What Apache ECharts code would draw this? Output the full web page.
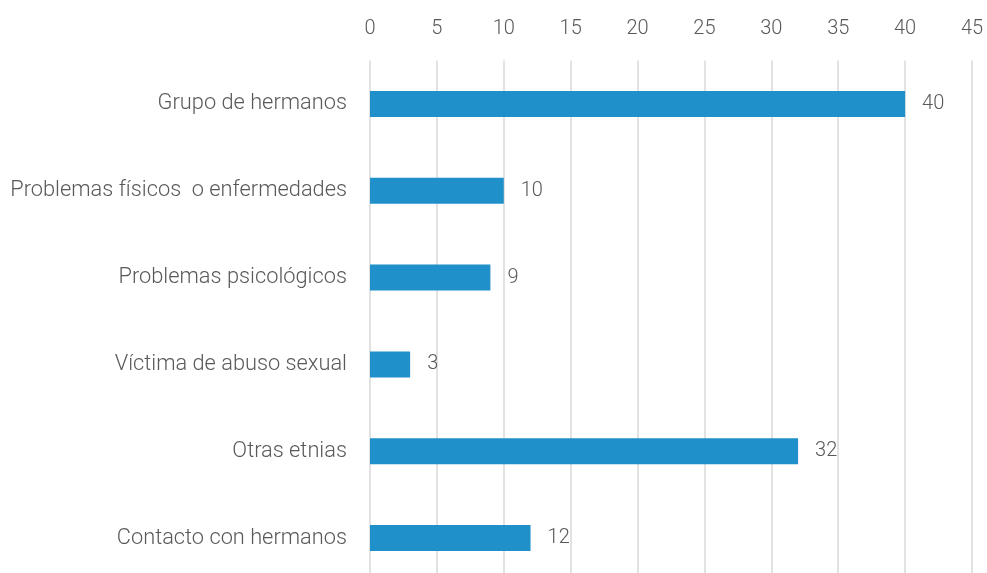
<!DOCTYPE html>
<html>
<head>
<meta charset="utf-8">
<script src="https://cdn.jsdelivr.net/npm/echarts@6/dist/echarts.min.js"></script>
<style>
  html, body { margin: 0; padding: 0; background: #fff; overflow: hidden; }
  #chart { width: 987px; height: 600px; }
</style>
</head>
<body>
<div id="chart"></div>
<script>
const categories = [
  'Grupo de hermanos',
  'Problemas físicos  o enfermedades',
  'Problemas psicológicos',
  'Víctima de abuso sexual',
  'Otras etnias',
  'Contacto con hermanos'
];
const values = [40, 10, 9, 3, 32, 12];

const textColor = '#595959';
const font = 'Roboto';

const chart = echarts.init(document.getElementById('chart'), undefined, { renderer: 'canvas' });
chart.setOption({
  animation: false,
  grid: { left: 370, right: 15, top: 60.5, height: 521, containLabel: false },
  xAxis: {
    type: 'value',
    position: 'top',
    min: 0,
    max: 45,
    interval: 5,
    axisLine: { show: false },
    axisTick: { show: false },
    axisLabel: { color: textColor, fontFamily: font, fontWeight: 300, fontSize: 20, margin: 22 },
    splitLine: { lineStyle: { color: '#d9d9d9', width: 1.5 } }
  },
  yAxis: {
    type: 'category',
    inverse: true,
    data: categories,
    axisLine: { show: false },
    axisTick: { show: false },
    axisLabel: { color: textColor, fontFamily: font, fontWeight: 300, fontSize: 21.8, margin: 23 }
  },
  series: [{
    type: 'bar',
    data: values,
    barWidth: 26,
    itemStyle: { color: '#1f90c9' },
    label: {
      show: true,
      position: 'right',
      distance: 17,
      color: textColor,
      fontFamily: font,
      fontWeight: 300,
      fontSize: 20
    }
  }]
});
</script>
</body>
</html>
